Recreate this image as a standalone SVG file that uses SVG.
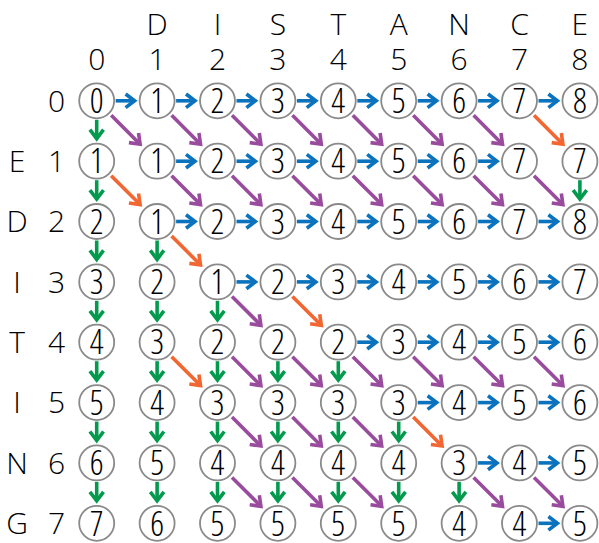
<svg xmlns="http://www.w3.org/2000/svg" width="599" height="543" viewBox="0 0 599 543">
<style>
text{font-family:"Open Sans","Liberation Sans",sans-serif;font-weight:300;text-anchor:middle;fill:#000}
.lab{font-size:30px;font-stretch:100%}
.v{font-size:34px;font-stretch:87.5%}
circle{fill:#fff;stroke:#8a8a8a;stroke-width:1.8}
.a{fill:none;stroke-width:3.6}
.b{stroke:#0b73be;marker-end:url(#mb)}
.g{stroke:#049a4e;marker-end:url(#mg)}
.p{stroke:#994c9d;marker-end:url(#mp)}
.o{stroke:#f26631;marker-end:url(#mo)}
</style>
<defs>
<marker id="mb" markerUnits="userSpaceOnUse" viewBox="-12 -9 16 18" refX="0" refY="0" markerWidth="16" markerHeight="18" orient="auto" overflow="visible"><path d="M-9,-6.8 L0,0 L-9,6.8" fill="none" stroke="#0b73be" stroke-width="3.6"/></marker>
<marker id="mg" markerUnits="userSpaceOnUse" viewBox="-12 -9 16 18" refX="0" refY="0" markerWidth="16" markerHeight="18" orient="auto" overflow="visible"><path d="M-9,-6.8 L0,0 L-9,6.8" fill="none" stroke="#049a4e" stroke-width="3.6"/></marker>
<marker id="mp" markerUnits="userSpaceOnUse" viewBox="-12 -9 16 18" refX="0" refY="0" markerWidth="16" markerHeight="18" orient="auto" overflow="visible"><path d="M-9,-6.8 L0,0 L-9,6.8" fill="none" stroke="#994c9d" stroke-width="3.6"/></marker>
<marker id="mo" markerUnits="userSpaceOnUse" viewBox="-12 -9 16 18" refX="0" refY="0" markerWidth="16" markerHeight="18" orient="auto" overflow="visible"><path d="M-9,-6.8 L0,0 L-9,6.8" fill="none" stroke="#f26631" stroke-width="3.6"/></marker>
</defs>
<g id="labels" class="lab">
<text x="157.1" y="35">D</text><text x="217.5" y="35">I</text><text x="277.9" y="35">S</text><text x="338.3" y="35">T</text><text x="398.7" y="35">A</text><text x="459.1" y="35">N</text><text x="519.5" y="35">C</text><text x="579.9" y="35">E</text>
<text x="96.7" y="70">0</text><text x="157.1" y="70">1</text><text x="217.5" y="70">2</text><text x="277.9" y="70">3</text><text x="338.3" y="70">4</text><text x="398.7" y="70">5</text><text x="459.1" y="70">6</text><text x="519.5" y="70">7</text><text x="579.9" y="70">8</text>
<text x="56.5" y="111.6">0</text>
<text x="17" y="172">E</text><text x="56.5" y="172">1</text>
<text x="17" y="232.3">D</text><text x="56.5" y="232.3">2</text>
<text x="17" y="292.7">I</text><text x="56.5" y="292.7">3</text>
<text x="17" y="353">T</text><text x="56.5" y="353">4</text>
<text x="17" y="413.4">I</text><text x="56.5" y="413.4">5</text>
<text x="17" y="473.7">N</text><text x="56.5" y="473.7">6</text>
<text x="17" y="534.1">G</text><text x="56.5" y="534.1">7</text>
</g>
<g id="connectors" class="a">
<path class="b" d="M115.7,100.8h18.9"/><path class="b" d="M176.1,100.8h18.9"/><path class="b" d="M236.5,100.8h18.9"/><path class="b" d="M296.9,100.8h18.9"/><path class="b" d="M357.3,100.8h18.9"/><path class="b" d="M417.7,100.8h18.9"/><path class="b" d="M478.1,100.8h18.9"/><path class="b" d="M538.5,100.8h18.9"/>
<path class="b" d="M176.1,161.2h18.9"/><path class="b" d="M236.5,161.2h18.9"/><path class="b" d="M296.9,161.2h18.9"/><path class="b" d="M357.3,161.2h18.9"/><path class="b" d="M417.7,161.2h18.9"/><path class="b" d="M478.1,161.2h18.9"/>
<path class="b" d="M176.1,221.5h18.9"/><path class="b" d="M236.5,221.5h18.9"/><path class="b" d="M296.9,221.5h18.9"/><path class="b" d="M357.3,221.5h18.9"/><path class="b" d="M417.7,221.5h18.9"/><path class="b" d="M478.1,221.5h18.9"/><path class="b" d="M538.5,221.5h18.9"/>
<path class="b" d="M236.5,281.9h18.9"/><path class="b" d="M296.9,281.9h18.9"/><path class="b" d="M357.3,281.9h18.9"/><path class="b" d="M417.7,281.9h18.9"/><path class="b" d="M478.1,281.9h18.9"/><path class="b" d="M538.5,281.9h18.9"/>
<path class="b" d="M357.3,342.2h18.9"/><path class="b" d="M417.7,342.2h18.9"/><path class="b" d="M478.1,342.2h18.9"/><path class="b" d="M538.5,342.2h18.9"/>
<path class="b" d="M417.7,402.6h18.9"/><path class="b" d="M478.1,402.6h18.9"/><path class="b" d="M538.5,402.6h18.9"/>
<path class="b" d="M478.1,462.9h18.9"/><path class="b" d="M538.5,462.9h18.9"/>
<path class="b" d="M538.5,523.3h18.9"/>
<path class="g" d="M96.7,119.8v18.9"/><path class="g" d="M96.7,180.2v18.9"/><path class="g" d="M96.7,240.5v18.9"/><path class="g" d="M96.7,300.9v18.9"/><path class="g" d="M96.7,361.2v18.9"/><path class="g" d="M96.7,421.6v18.9"/><path class="g" d="M96.7,481.9v18.9"/>
<path class="g" d="M157.1,240.5v18.9"/><path class="g" d="M157.1,300.9v18.9"/><path class="g" d="M157.1,361.2v18.9"/><path class="g" d="M157.1,421.6v18.9"/><path class="g" d="M157.1,481.9v18.9"/>
<path class="g" d="M217.5,300.9v18.9"/><path class="g" d="M217.5,361.2v18.9"/><path class="g" d="M217.5,421.6v18.9"/><path class="g" d="M217.5,481.9v18.9"/>
<path class="g" d="M277.9,361.2v18.9"/><path class="g" d="M277.9,421.6v18.9"/><path class="g" d="M277.9,481.9v18.9"/>
<path class="g" d="M338.3,361.2v18.9"/><path class="g" d="M338.3,421.6v18.9"/><path class="g" d="M338.3,481.9v18.9"/>
<path class="g" d="M398.7,421.6v18.9"/><path class="g" d="M398.7,481.9v18.9"/>
<path class="g" d="M459.1,481.9v18.9"/>
<path class="g" d="M579.9,180.2v18.9"/>
<path class="p" d="M111.2,115.3l28.9,28.9"/><path class="p" d="M171.6,115.3l28.9,28.9"/><path class="p" d="M232,115.3l28.9,28.9"/><path class="p" d="M292.4,115.3l28.9,28.9"/><path class="p" d="M352.8,115.3l28.9,28.9"/><path class="p" d="M413.2,115.3l28.9,28.9"/><path class="p" d="M473.6,115.3l28.9,28.9"/>
<path class="p" d="M171.6,175.7l28.9,28.9"/><path class="p" d="M232,175.7l28.9,28.9"/><path class="p" d="M292.4,175.7l28.9,28.9"/><path class="p" d="M352.8,175.7l28.9,28.9"/><path class="p" d="M413.2,175.7l28.9,28.9"/><path class="p" d="M473.6,175.7l28.9,28.9"/><path class="p" d="M534,175.7l28.9,28.9"/>
<path class="p" d="M232,296.4l28.9,28.9"/>
<path class="p" d="M232,356.7l28.9,28.9"/><path class="p" d="M292.4,356.7l28.9,28.9"/><path class="p" d="M352.8,356.7l28.9,28.9"/><path class="p" d="M413.2,356.7l28.9,28.9"/><path class="p" d="M473.6,356.7l28.9,28.9"/><path class="p" d="M534,356.7l28.9,28.9"/>
<path class="p" d="M232,417.1l28.9,28.9"/><path class="p" d="M292.4,417.1l28.9,28.9"/><path class="p" d="M352.8,417.1l28.9,28.9"/>
<path class="p" d="M232,477.4l28.9,28.9"/><path class="p" d="M292.4,477.4l28.9,28.9"/><path class="p" d="M352.8,477.4l28.9,28.9"/><path class="p" d="M473.6,477.4l28.9,28.9"/><path class="p" d="M534,477.4l28.9,28.9"/>
<path class="o" d="M534,115.3l28.9,28.9"/>
<path class="o" d="M111.2,175.7l28.9,28.9"/>
<path class="o" d="M171.6,236l28.9,28.9"/>
<path class="o" d="M292.4,296.4l28.9,28.9"/>
<path class="o" d="M171.6,356.7l28.9,28.9"/>
<path class="o" d="M413.2,417.1l28.9,28.9"/>
</g>
<g class="v">
<g id="n0-0"><circle cx="96.7" cy="100.8" r="17.5"/><text x="96.7" y="113">0</text></g>
<g id="n0-1"><circle cx="157.1" cy="100.8" r="17.5"/><text x="157.1" y="113">1</text></g>
<g id="n0-2"><circle cx="217.5" cy="100.8" r="17.5"/><text x="217.5" y="113">2</text></g>
<g id="n0-3"><circle cx="277.9" cy="100.8" r="17.5"/><text x="277.9" y="113">3</text></g>
<g id="n0-4"><circle cx="338.3" cy="100.8" r="17.5"/><text x="338.3" y="113">4</text></g>
<g id="n0-5"><circle cx="398.7" cy="100.8" r="17.5"/><text x="398.7" y="113">5</text></g>
<g id="n0-6"><circle cx="459.1" cy="100.8" r="17.5"/><text x="459.1" y="113">6</text></g>
<g id="n0-7"><circle cx="519.5" cy="100.8" r="17.5"/><text x="519.5" y="113">7</text></g>
<g id="n0-8"><circle cx="579.9" cy="100.8" r="17.5"/><text x="579.9" y="113">8</text></g>
<g id="n1-0"><circle cx="96.7" cy="161.2" r="17.5"/><text x="96.7" y="173.4">1</text></g>
<g id="n1-1"><circle cx="157.1" cy="161.2" r="17.5"/><text x="157.1" y="173.4">1</text></g>
<g id="n1-2"><circle cx="217.5" cy="161.2" r="17.5"/><text x="217.5" y="173.4">2</text></g>
<g id="n1-3"><circle cx="277.9" cy="161.2" r="17.5"/><text x="277.9" y="173.4">3</text></g>
<g id="n1-4"><circle cx="338.3" cy="161.2" r="17.5"/><text x="338.3" y="173.4">4</text></g>
<g id="n1-5"><circle cx="398.7" cy="161.2" r="17.5"/><text x="398.7" y="173.4">5</text></g>
<g id="n1-6"><circle cx="459.1" cy="161.2" r="17.5"/><text x="459.1" y="173.4">6</text></g>
<g id="n1-7"><circle cx="519.5" cy="161.2" r="17.5"/><text x="519.5" y="173.4">7</text></g>
<g id="n1-8"><circle cx="579.9" cy="161.2" r="17.5"/><text x="579.9" y="173.4">7</text></g>
<g id="n2-0"><circle cx="96.7" cy="221.5" r="17.5"/><text x="96.7" y="233.7">2</text></g>
<g id="n2-1"><circle cx="157.1" cy="221.5" r="17.5"/><text x="157.1" y="233.7">1</text></g>
<g id="n2-2"><circle cx="217.5" cy="221.5" r="17.5"/><text x="217.5" y="233.7">2</text></g>
<g id="n2-3"><circle cx="277.9" cy="221.5" r="17.5"/><text x="277.9" y="233.7">3</text></g>
<g id="n2-4"><circle cx="338.3" cy="221.5" r="17.5"/><text x="338.3" y="233.7">4</text></g>
<g id="n2-5"><circle cx="398.7" cy="221.5" r="17.5"/><text x="398.7" y="233.7">5</text></g>
<g id="n2-6"><circle cx="459.1" cy="221.5" r="17.5"/><text x="459.1" y="233.7">6</text></g>
<g id="n2-7"><circle cx="519.5" cy="221.5" r="17.5"/><text x="519.5" y="233.7">7</text></g>
<g id="n2-8"><circle cx="579.9" cy="221.5" r="17.5"/><text x="579.9" y="233.7">8</text></g>
<g id="n3-0"><circle cx="96.7" cy="281.9" r="17.5"/><text x="96.7" y="294.1">3</text></g>
<g id="n3-1"><circle cx="157.1" cy="281.9" r="17.5"/><text x="157.1" y="294.1">2</text></g>
<g id="n3-2"><circle cx="217.5" cy="281.9" r="17.5"/><text x="217.5" y="294.1">1</text></g>
<g id="n3-3"><circle cx="277.9" cy="281.9" r="17.5"/><text x="277.9" y="294.1">2</text></g>
<g id="n3-4"><circle cx="338.3" cy="281.9" r="17.5"/><text x="338.3" y="294.1">3</text></g>
<g id="n3-5"><circle cx="398.7" cy="281.9" r="17.5"/><text x="398.7" y="294.1">4</text></g>
<g id="n3-6"><circle cx="459.1" cy="281.9" r="17.5"/><text x="459.1" y="294.1">5</text></g>
<g id="n3-7"><circle cx="519.5" cy="281.9" r="17.5"/><text x="519.5" y="294.1">6</text></g>
<g id="n3-8"><circle cx="579.9" cy="281.9" r="17.5"/><text x="579.9" y="294.1">7</text></g>
<g id="n4-0"><circle cx="96.7" cy="342.2" r="17.5"/><text x="96.7" y="354.4">4</text></g>
<g id="n4-1"><circle cx="157.1" cy="342.2" r="17.5"/><text x="157.1" y="354.4">3</text></g>
<g id="n4-2"><circle cx="217.5" cy="342.2" r="17.5"/><text x="217.5" y="354.4">2</text></g>
<g id="n4-3"><circle cx="277.9" cy="342.2" r="17.5"/><text x="277.9" y="354.4">2</text></g>
<g id="n4-4"><circle cx="338.3" cy="342.2" r="17.5"/><text x="338.3" y="354.4">2</text></g>
<g id="n4-5"><circle cx="398.7" cy="342.2" r="17.5"/><text x="398.7" y="354.4">3</text></g>
<g id="n4-6"><circle cx="459.1" cy="342.2" r="17.5"/><text x="459.1" y="354.4">4</text></g>
<g id="n4-7"><circle cx="519.5" cy="342.2" r="17.5"/><text x="519.5" y="354.4">5</text></g>
<g id="n4-8"><circle cx="579.9" cy="342.2" r="17.5"/><text x="579.9" y="354.4">6</text></g>
<g id="n5-0"><circle cx="96.7" cy="402.6" r="17.5"/><text x="96.7" y="414.8">5</text></g>
<g id="n5-1"><circle cx="157.1" cy="402.6" r="17.5"/><text x="157.1" y="414.8">4</text></g>
<g id="n5-2"><circle cx="217.5" cy="402.6" r="17.5"/><text x="217.5" y="414.8">3</text></g>
<g id="n5-3"><circle cx="277.9" cy="402.6" r="17.5"/><text x="277.9" y="414.8">3</text></g>
<g id="n5-4"><circle cx="338.3" cy="402.6" r="17.5"/><text x="338.3" y="414.8">3</text></g>
<g id="n5-5"><circle cx="398.7" cy="402.6" r="17.5"/><text x="398.7" y="414.8">3</text></g>
<g id="n5-6"><circle cx="459.1" cy="402.6" r="17.5"/><text x="459.1" y="414.8">4</text></g>
<g id="n5-7"><circle cx="519.5" cy="402.6" r="17.5"/><text x="519.5" y="414.8">5</text></g>
<g id="n5-8"><circle cx="579.9" cy="402.6" r="17.5"/><text x="579.9" y="414.8">6</text></g>
<g id="n6-0"><circle cx="96.7" cy="462.9" r="17.5"/><text x="96.7" y="475.1">6</text></g>
<g id="n6-1"><circle cx="157.1" cy="462.9" r="17.5"/><text x="157.1" y="475.1">5</text></g>
<g id="n6-2"><circle cx="217.5" cy="462.9" r="17.5"/><text x="217.5" y="475.1">4</text></g>
<g id="n6-3"><circle cx="277.9" cy="462.9" r="17.5"/><text x="277.9" y="475.1">4</text></g>
<g id="n6-4"><circle cx="338.3" cy="462.9" r="17.5"/><text x="338.3" y="475.1">4</text></g>
<g id="n6-5"><circle cx="398.7" cy="462.9" r="17.5"/><text x="398.7" y="475.1">4</text></g>
<g id="n6-6"><circle cx="459.1" cy="462.9" r="17.5"/><text x="459.1" y="475.1">3</text></g>
<g id="n6-7"><circle cx="519.5" cy="462.9" r="17.5"/><text x="519.5" y="475.1">4</text></g>
<g id="n6-8"><circle cx="579.9" cy="462.9" r="17.5"/><text x="579.9" y="475.1">5</text></g>
<g id="n7-0"><circle cx="96.7" cy="523.3" r="17.5"/><text x="96.7" y="535.5">7</text></g>
<g id="n7-1"><circle cx="157.1" cy="523.3" r="17.5"/><text x="157.1" y="535.5">6</text></g>
<g id="n7-2"><circle cx="217.5" cy="523.3" r="17.5"/><text x="217.5" y="535.5">5</text></g>
<g id="n7-3"><circle cx="277.9" cy="523.3" r="17.5"/><text x="277.9" y="535.5">5</text></g>
<g id="n7-4"><circle cx="338.3" cy="523.3" r="17.5"/><text x="338.3" y="535.5">5</text></g>
<g id="n7-5"><circle cx="398.7" cy="523.3" r="17.5"/><text x="398.7" y="535.5">5</text></g>
<g id="n7-6"><circle cx="459.1" cy="523.3" r="17.5"/><text x="459.1" y="535.5">4</text></g>
<g id="n7-7"><circle cx="519.5" cy="523.3" r="17.5"/><text x="519.5" y="535.5">4</text></g>
<g id="n7-8"><circle cx="579.9" cy="523.3" r="17.5"/><text x="579.9" y="535.5">5</text></g>
</g>
</svg>
